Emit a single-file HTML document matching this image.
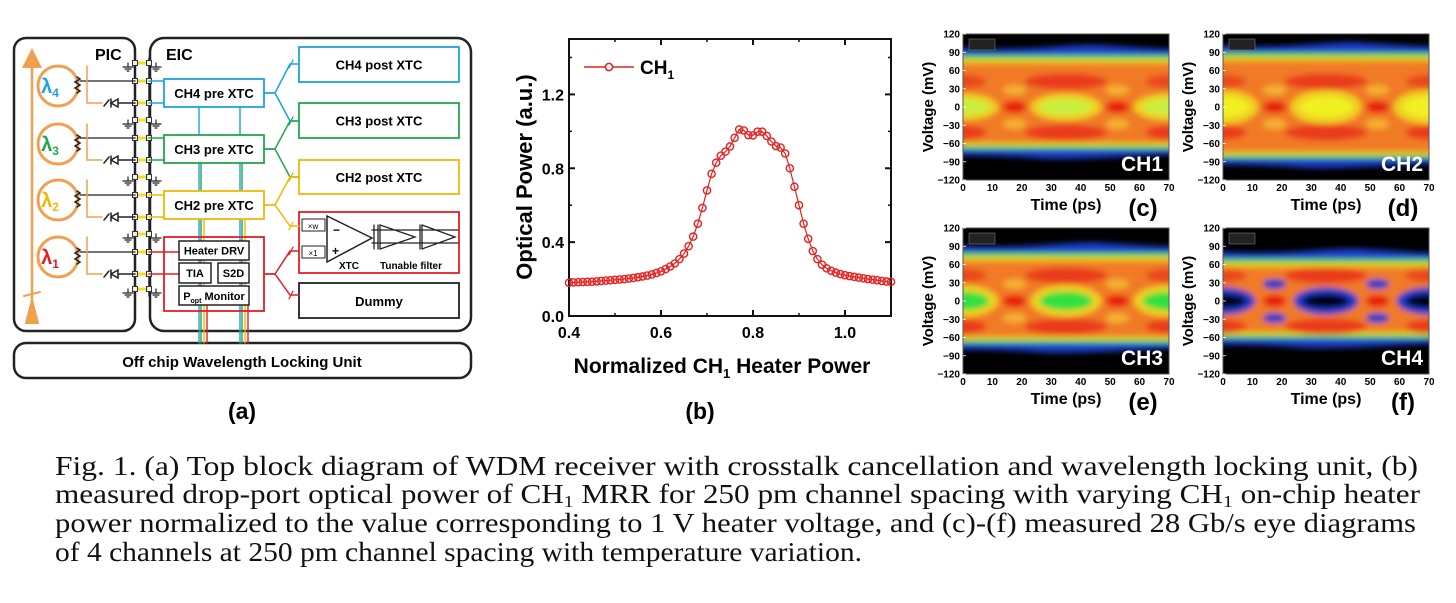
<!DOCTYPE html>
<html><head><meta charset="utf-8"><style>
html,body{margin:0;padding:0;background:#fff;}
svg{display:block;font-family:"Liberation Sans",sans-serif;}
.b{font-weight:bold;}
</style></head><body>
<svg id="root" width="1456" height="603" viewBox="0 0 1456 603" xmlns="http://www.w3.org/2000/svg">
<defs>
 <filter id="blur" x="-10%" y="-10%" width="120%" height="120%"><feGaussianBlur stdDeviation="3"/></filter>
 <marker id="ar" markerWidth="8" markerHeight="8" refX="4" refY="4" orient="auto"><path d="M0,0 L8,4 L0,8 z" fill="#f0a050"/></marker>
</defs>

<g id="panelA" stroke-linecap="round">
 <rect x="14" y="38" width="121" height="293" rx="12" fill="none" stroke="#222" stroke-width="2.5"/>
 <rect x="150" y="38" width="321" height="293" rx="14" fill="none" stroke="#222" stroke-width="2.5"/>
 <text x="95" y="60" class="b" font-size="16">PIC</text>
 <text x="166" y="60" class="b" font-size="16">EIC</text>
 <line x1="32" y1="322" x2="32" y2="58" stroke="#f0a050" stroke-width="2.5" marker-end="url(#ar)"/>
 <path d="M26,323 L32,300 L38,323 z M24,296 L40,292" fill="#f0a050" stroke="#f0a050" stroke-width="2"/>
 <rect x="14" y="343" width="457" height="35" rx="12" fill="none" stroke="#222" stroke-width="2.5"/>
 <text x="242" y="367" text-anchor="middle" class="b" font-size="15">Off chip Wavelength Locking Unit</text>
 <text x="242" y="419" text-anchor="middle" class="b" font-size="23">(a)</text>
 <g id="aDyn"></g>
</g>

<g id="panelB"></g>
<g id="eyes"></g>

<g font-family="'Liberation Serif',serif" font-size="27" fill="#111">
 <text x="55" y="475" textLength="1363" lengthAdjust="spacingAndGlyphs">Fig. 1. (a) Top block diagram of WDM receiver with crosstalk cancellation and wavelength locking unit, (b)</text>
 <text x="55" y="503" textLength="1365" lengthAdjust="spacingAndGlyphs">measured drop-port optical power of CH<tspan font-size="17" dy="4">1</tspan><tspan dy="-4"> MRR for 250 pm channel spacing with varying CH</tspan><tspan font-size="17" dy="4">1</tspan><tspan dy="-4"> on-chip heater</tspan></text>
 <text x="55" y="532" textLength="1361" lengthAdjust="spacingAndGlyphs">power normalized to the value corresponding to 1 V heater voltage, and (c)-(f) measured 28 Gb/s eye diagrams</text>
 <text x="55" y="561" textLength="807" lengthAdjust="spacingAndGlyphs">of 4 channels at 250 pm channel spacing with temperature variation.</text>
</g>
</svg>
<script>
const NS="http://www.w3.org/2000/svg";
function mk(p,tag,attrs,txt){const e=document.createElementNS(NS,tag);for(const k in attrs)e.setAttribute(k,attrs[k]);if(txt!==undefined)e.textContent=txt;p.appendChild(e);return e;}

/* ---------- Panel B data ---------- */
const heaterPower=[0.40,0.41,0.42,0.43,0.44,0.45,0.46,0.47,0.48,0.49,0.50,0.51,0.52,0.53,0.54,0.55,0.56,0.57,0.58,0.59,0.60,0.61,0.62,0.63,0.64,0.65,0.66,0.67,0.68,0.69,0.70,0.71,0.72,0.73,0.74,0.75,0.76,0.77,0.78,0.79,0.80,0.81,0.82,0.83,0.84,0.85,0.86,0.87,0.88,0.89,0.90,0.91,0.92,0.93,0.94,0.95,0.96,0.97,0.98,0.99,1.00,1.01,1.02,1.03,1.04,1.05,1.06,1.07,1.08,1.09,1.10];
const opticalPower=[0.180,0.182,0.183,0.184,0.185,0.186,0.188,0.190,0.192,0.194,0.196,0.198,0.200,0.203,0.206,0.210,0.214,0.219,0.225,0.233,0.242,0.254,0.268,0.285,0.308,0.338,0.378,0.430,0.500,0.585,0.680,0.770,0.830,0.868,0.890,0.918,0.965,1.010,1.005,0.980,0.978,0.998,0.998,0.975,0.945,0.920,0.912,0.880,0.800,0.700,0.600,0.500,0.418,0.352,0.308,0.278,0.258,0.245,0.235,0.227,0.221,0.216,0.212,0.208,0.204,0.200,0.197,0.194,0.190,0.187,0.185];
const bXTicks=[0.4,0.6,0.8,1.0];
const bXTickLabels=["0.4","0.6","0.8","1.0"];
const bYTicks=[0.0,0.4,0.8,1.2];
const bYTickLabels=["0.0","0.4","0.8","1.2"];

/* ---------- Eye data ---------- */
const eyeChannels=["CH1","CH2","CH3","CH4"];
const eyePanelLetters=["(c)","(d)","(e)","(f)"];
const eyeVTicks=[120,90,60,30,0,-30,-60,-90,-120];
const eyeTTicks=[0,10,20,30,40,50,60,70];
const eyeTop=[98,102,92,82];
const eyeBottom=[-80,-95,-80,-72];
const eyeHeight=[22,28,26,28];
const eyeColor=["#c8f040","#f0f020","#30e040","#000000"];

/* ---------- Panel A ---------- */
(function(){
 const g=document.getElementById('aDyn');
 const ringY=[86,144,200,257];
 const chColors=["#1ba3e0","#21a84a","#f2b705","#e31e24"];
 const lambdaLbl=["4","3","2","1"];
 mk(g,'line',{x1:135,y1:58,x2:135,y2:296,stroke:'#222','stroke-width':1.5});
 mk(g,'line',{x1:149,y1:58,x2:149,y2:296,stroke:'#222','stroke-width':1.5});
 for(let k=0;k<5;k++){
  const y0=63+k*57;
  const rows=k<4?[y0,y0+18,y0+40]:[y0-2];
  rows.forEach((y,i)=>{
   mk(g,'line',{x1:137,y1:y,x2:147,y2:y,stroke:'#f0e020','stroke-width':3});
   [135,149].forEach(x=>{const p=mk(g,'rect',{x:x-2.5,y:y-2.5,width:5,height:5,fill:'#eee',stroke:'#333','stroke-width':1});
    });
   if(i===0){[128,156].forEach(x=>{mk(g,'path',{d:`M${x},${y} v4 M${x-5},${y+4} h10 M${x-3},${y+6} h6 M${x-1},${y+8} h2`,stroke:'#222','stroke-width':1.2,fill:'none'});});}
  });
 }
 ringY.forEach((ry,k)=>{
  const c=chColors[k];
  const ring=mk(g,'circle',{cx:58,cy:ry,r:20,fill:'none',stroke:'#f0a050','stroke-width':3});
  
  const t=mk(g,'text',{x:50,y:ry+7,'text-anchor':'middle',fill:c,'font-size':20,'font-weight':'bold'},'λ');
  mk(t,'tspan',{'font-size':12,dy:4},lambdaLbl[k]);
  mk(g,'path',{d:`M77,${ry-9} l3,2 l-5,3 l5,3 l-5,3 l5,3 l-3,2`,stroke:'#222','stroke-width':1.5,fill:'none'});
  const hy=63+k*57+18, py=63+k*57+40;
  mk(g,'line',{x1:80,y1:hy,x2:135,y2:hy,stroke:'#222','stroke-width':1.3});
  mk(g,'path',{d:`M87,${ry-20} V${py} H102`,stroke:'#f0a050','stroke-width':1.5,fill:'none'});
  mk(g,'path',{d:`M104,${py+3} l5,-6 M111,${py-4} v8 M111,${py} l7,-4 v8 z M118,${py} H135`,stroke:'#222','stroke-width':1.5,fill:'none'});
  if(k<3){
   mk(g,'line',{x1:149,y1:hy,x2:164,y2:hy,stroke:c,'stroke-width':1.5});
   mk(g,'line',{x1:149,y1:py,x2:164,y2:py,stroke:c,'stroke-width':1.5});
  } else {
   mk(g,'line',{x1:149,y1:hy,x2:179,y2:hy,stroke:c,'stroke-width':1.5});
   mk(g,'line',{x1:149,y1:py,x2:179,y2:py,stroke:c,'stroke-width':1.5});
  }
 });
 const vx=[[199,201,204,207],[240,242,245,248]];
 const starts=[107,163,219,305];
 vx.forEach(xs=>xs.forEach((x,i)=>{mk(g,'line',{x1:x,y1:starts[i],x2:x,y2:343,stroke:chColors[i],'stroke-width':1.4});}));
 const preY=[79,135,191];
 ["CH4 pre XTC","CH3 pre XTC","CH2 pre XTC"].forEach((s,i)=>{
  const r=mk(g,'rect',{x:164,y:preY[i],width:100,height:28,fill:'#fff',stroke:chColors[i],'stroke-width':1.8});
  
  mk(g,'text',{x:214,y:preY[i]+19,'text-anchor':'middle','font-size':13,'font-weight':'bold'},s);
 });
 mk(g,'rect',{x:164,y:237,width:100,height:74,fill:'none',stroke:'#e31e24','stroke-width':1.8});
 [[179,241,70,19,'Heater DRV'],[179,263,32,20,'TIA'],[218,263,31,20,'S2D'],[179,286,70,19,'Popt Monitor']].forEach(b=>{
  const r=mk(g,'rect',{x:b[0],y:b[1],width:b[2],height:b[3],fill:'#fff',stroke:'#222','stroke-width':1.5});
  
  if(b[4]==='Popt Monitor'){const t=mk(g,'text',{x:b[0]+b[2]/2,y:b[1]+14,'text-anchor':'middle','font-size':11,'font-weight':'bold'},'P');mk(t,'tspan',{'font-size':7,dy:3},'opt');mk(t,'tspan',{dy:-3},' Monitor');}
  else mk(g,'text',{x:b[0]+b[2]/2,y:b[1]+b[3]/2+4,'text-anchor':'middle','font-size':11,'font-weight':'bold'},b[4]);
 });
 const postY=[[47,35],[103,35],[160,34]];
 ["CH4 post XTC","CH3 post XTC","CH2 post XTC"].forEach((s,i)=>{
  const r=mk(g,'rect',{x:299,y:postY[i][0],width:160,height:postY[i][1],fill:'#fff',stroke:chColors[i],'stroke-width':1.8});
  
  mk(g,'text',{x:379,y:postY[i][0]+postY[i][1]/2+5,'text-anchor':'middle','font-size':13,'font-weight':'bold'},s);
 });
 const xb=mk(g,'rect',{x:299,y:212,width:160,height:61,fill:'none',stroke:'#e31e24','stroke-width':1.8});
 
 const db=mk(g,'rect',{x:299,y:283,width:160,height:35,fill:'#fff',stroke:'#222','stroke-width':1.8});
 
 mk(g,'text',{x:379,y:306,'text-anchor':'middle','font-size':13,'font-weight':'bold'},'Dummy');
 mk(g,'rect',{x:302,y:219,width:23,height:12,fill:'#fff',stroke:'#222','stroke-width':1});
 mk(g,'text',{x:313,y:229,'text-anchor':'middle','font-size':8},'×w');
 mk(g,'rect',{x:302,y:246,width:23,height:12,fill:'#fff',stroke:'#222','stroke-width':1});
 mk(g,'text',{x:313,y:256,'text-anchor':'middle','font-size':8},'×1');
 mk(g,'path',{d:'M327,216 L372,238 L327,262 z',fill:'#fff',stroke:'#222','stroke-width':1.5});
 mk(g,'text',{x:333,y:234,'font-size':12,'font-weight':'bold'},'−');
 mk(g,'text',{x:332,y:255,'font-size':12,'font-weight':'bold'},'+');
 mk(g,'path',{d:'M374,225 v24 M378,225 v24 M380,225 L415,237 L380,249 z M420,225 v24 M422,225 L455,237 L422,249 z M372,230 H458 M372,243 H458',fill:'none',stroke:'#222','stroke-width':1.3});
 mk(g,'text',{x:349,y:269,'text-anchor':'middle','font-size':10,'font-weight':'bold'},'XTC');
 mk(g,'text',{x:411,y:269,'text-anchor':'middle','font-size':10,'font-weight':'bold'},'Tunable filter');
 const fan=[[93,[64,121]],[149,[121,177]],[205,[177,226]],[274,[251,295]]];
 fan.forEach((f,i)=>{f[1].forEach(ty=>{mk(g,'path',{d:`M264,${f[0]} L275,${f[0]} L290,${ty} L299,${ty}`,fill:'none',stroke:chColors[i],'stroke-width':1.5});
  mk(g,'line',{x1:289,y1:ty+4,x2:293,y2:ty-4,stroke:chColors[i],'stroke-width':1.2});});});
})();

/* ---------- Panel B render ---------- */
(function(){
 const g=document.getElementById('panelB');
 const L=569,R=891,T=39,B=316, x0=0.4,x1=1.1,y0=0,y1=1.5;
 const X=v=>L+(v-x0)/(x1-x0)*(R-L);
 const Y=v=>B-(v-y0)/(y1-y0)*(B-T);
 const fr=mk(g,'rect',{x:L,y:T,width:R-L,height:B-T,fill:'none',stroke:'#111','stroke-width':2});
 
 bXTicks.forEach((v,i)=>{const x=X(v);
  mk(g,'line',{x1:x,y1:B,x2:x,y2:B-6,stroke:'#111','stroke-width':2});
  mk(g,'line',{x1:x,y1:T,x2:x,y2:T+6,stroke:'#111','stroke-width':2});
  const t=mk(g,'text',{x:x,y:B+22,'text-anchor':'middle','font-size':16,'font-weight':'bold'},bXTickLabels[i]);
  
 });
 [0.5,0.7,0.9].forEach(v=>{const x=X(v);mk(g,'line',{x1:x,y1:B,x2:x,y2:B-3,stroke:'#111','stroke-width':1.5});mk(g,'line',{x1:x,y1:T,x2:x,y2:T+3,stroke:'#111','stroke-width':1.5});});
 bYTicks.forEach((v,i)=>{const y=Y(v);
  mk(g,'line',{x1:L,y1:y,x2:L+6,y2:y,stroke:'#111','stroke-width':2});
  mk(g,'line',{x1:R,y1:y,x2:R-6,y2:y,stroke:'#111','stroke-width':2});
  const t=mk(g,'text',{x:L-5,y:y+6,'text-anchor':'end','font-size':16,'font-weight':'bold'},bYTickLabels[i]);
  
 });
 [0.2,0.6,1.0,1.4].forEach(v=>{const y=Y(v);mk(g,'line',{x1:L,y1:y,x2:L+3,y2:y,stroke:'#111','stroke-width':1.5});mk(g,'line',{x1:R,y1:y,x2:R-3,y2:y,stroke:'#111','stroke-width':1.5});});
 const line=mk(g,'polyline',{points:heaterPower.map((v,i)=>X(v)+','+Y(opticalPower[i])).join(' '),fill:'none',stroke:'#e82020','stroke-width':1.2});
 
 heaterPower.forEach((v,i)=>{const c=mk(g,'circle',{cx:X(v),cy:Y(opticalPower[i]),r:3.6,fill:'none',stroke:'#e82020','stroke-width':1.4});
  });
 const lg=mk(g,'g',{});
 mk(lg,'line',{x1:584,y1:67,x2:634,y2:67,stroke:'#e82020','stroke-width':1.5});
 mk(lg,'circle',{cx:609,cy:67,r:3.6,fill:'#fff',stroke:'#e82020','stroke-width':1.5});
 const lt=mk(lg,'text',{x:640,y:74,'font-size':19,'font-weight':'bold'},'CH');mk(lt,'tspan',{'font-size':12,dy:5},'1');
 const yt=mk(g,'text',{x:0,y:0,transform:'translate(532,177) rotate(-90)','text-anchor':'middle','font-size':22,'font-weight':'bold'},'Optical Power (a.u.)');
 
 const xt=mk(g,'text',{x:722,y:373,'text-anchor':'middle','font-size':21,'font-weight':'bold'},'Normalized CH');
 
 mk(xt,'tspan',{'font-size':13,dy:5},'1');mk(xt,'tspan',{dy:-5},' Heater Power');
 mk(g,'text',{x:700,y:419,'text-anchor':'middle','font-size':23,'font-weight':'bold'},'(b)');
})();

/* ---------- Eye render ---------- */
(function(){
 const root=document.getElementById('eyes');
 const pos=[[963,34],[1223,34],[963,228],[1223,228]];
 const W=206,H=146;
 eyeChannels.forEach((ch,i)=>{
  const [px,py]=pos[i];
  const g=mk(root,'g',{transform:`translate(${px},${py})`});
  
  const V=v=>H/2-v*H/240, T=t=>t/70*W;
  const cp=mk(g,'clipPath',{id:'cp'+i}); mk(cp,'rect',{width:W,height:H});
  mk(g,'rect',{width:W,height:H,fill:'#000'});
  const inner=mk(g,'g',{'clip-path':`url(#cp${i})`});
  const bl=mk(inner,'g',{filter:'url(#blur)'});
  const top=eyeTop[i],bot=eyeBottom[i];
  mk(bl,'path',{d:`M-10,${V(top)} C${T(20)},${V(top-8)} ${T(35)},${V(top+6)} ${T(45)},${V(top+4)} S${T(70)},${V(top-4)} ${W+10},${V(top-2)} L${W+10},${V(bot+2)} C${T(50)},${V(bot-2)} ${T(35)},${V(bot-8)} ${T(25)},${V(bot-4)} S-10,${V(bot)} -10,${V(bot)} z`,fill:'#1a3cc8'});
  mk(bl,'rect',{x:-10,y:V(top-13),width:W+20,height:V(bot+11)-V(top-13),fill:'#60e040'});
  mk(bl,'rect',{x:-10,y:V(top-20),width:W+20,height:V(bot+17)-V(top-20),fill:'#f0c020'});
  mk(bl,'rect',{x:-10,y:V(top-27),width:W+20,height:V(bot+22)-V(top-27),fill:'#f07a28'});
  [35].forEach(t=>{mk(bl,'ellipse',{cx:T(t),cy:V(42),rx:T(14),ry:8,fill:'#ea3a1a'});mk(bl,'ellipse',{cx:T(t),cy:V(-42),rx:T(14),ry:8,fill:'#ea3a1a'});});
  [0,70].forEach(t=>{mk(bl,'ellipse',{cx:T(t),cy:V(42),rx:T(8),ry:7,fill:'#ea4a1a'});mk(bl,'ellipse',{cx:T(t),cy:V(-42),rx:T(8),ry:7,fill:'#ea3a1a'});});
  [17.5,52.5].forEach(t=>{
   mk(bl,'ellipse',{cx:T(t),cy:V(28),rx:T(4),ry:5,fill:i===3?'#1a3cc8':'#f5b030'});
   mk(bl,'ellipse',{cx:T(t),cy:V(-28),rx:T(4),ry:5,fill:i===3?'#1a3cc8':'#f5b030'});
   mk(bl,'ellipse',{cx:T(t),cy:V(0),rx:T(4),ry:6,fill:'#e81a10'});
  });
  const eh=eyeHeight[i];
  [0,35,70].forEach(t=>{
   if(i===3){mk(bl,'ellipse',{cx:T(t),cy:V(0),rx:T(11),ry:eh*H/240*0.8,fill:'#1a3cc8'});mk(bl,'ellipse',{cx:T(t),cy:V(0),rx:T(8),ry:eh*H/240*0.4,fill:'#000'});}
   else{mk(bl,'ellipse',{cx:T(t),cy:V(0),rx:T(12),ry:eh*H/240,fill:'#f0d020'});mk(bl,'ellipse',{cx:T(t),cy:V(0),rx:T(9),ry:eh*H/240*0.6,fill:eyeColor[i]});}
  });
  mk(inner,'rect',{x:6,y:5,width:26,height:11,fill:'#222',stroke:'#888','stroke-width':0.5});
  mk(g,'rect',{width:W,height:H,fill:'none',stroke:'#555','stroke-width':1});
  const cl=mk(g,'text',{x:W-6,y:H-9,'text-anchor':'end',fill:'#fff','font-size':21,'font-weight':'bold'},ch);
  
  eyeVTicks.forEach(v=>{mk(g,'line',{x1:0,y1:V(v),x2:3,y2:V(v),stroke:'#fff','stroke-width':0.8});
   const t=mk(g,'text',{x:-3,y:V(v)+3.5,'text-anchor':'end','font-size':10,'font-weight':'bold'},(v<0?'−'+(-v):''+v));
   });
  eyeTTicks.forEach(v=>{const t=mk(g,'text',{x:T(v),y:H+11,'text-anchor':'middle','font-size':10,'font-weight':'bold'},''+v);
   });
  const yt=mk(g,'text',{transform:`translate(-30,${H/2}) rotate(-90)`,'text-anchor':'middle','font-size':15,'font-weight':'bold'},'Voltage (mV)');
  
  const xt=mk(g,'text',{x:103,y:H+30,'text-anchor':'middle','font-size':16,'font-weight':'bold'},'Time (ps)');
  
  const pl=mk(g,'text',{x:180,y:H+36,'text-anchor':'middle','font-size':24,'font-weight':'bold'},eyePanelLetters[i]);
  
 });
})();
</script>
</body></html>
